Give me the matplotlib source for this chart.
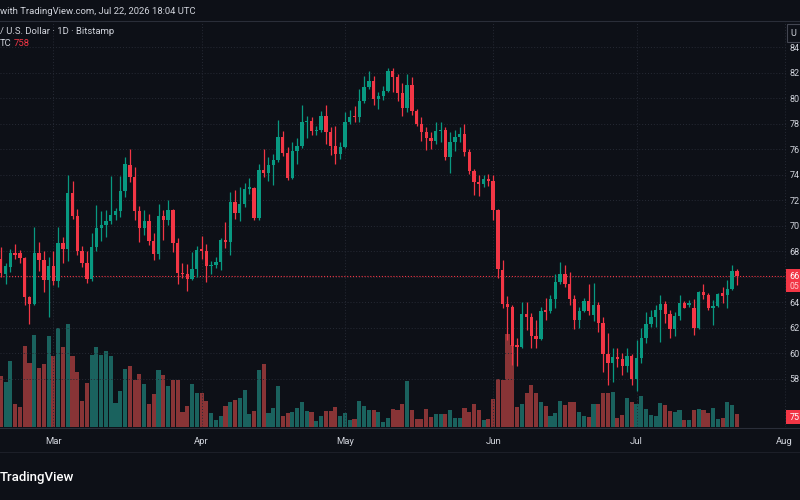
"""
Bitcoin / U.S. Dollar - 1D - Bitstamp (TradingView dark screenshot)
"""
import matplotlib
matplotlib.use('Agg')
import matplotlib.pyplot as plt
from matplotlib.patches import Rectangle
import numpy as np
import pandas as pd

# ── Data (prices in thousands of USD, volume in BTC) ──
dates = pd.date_range('2026-02-18', '2026-07-22', freq='D')

opens = [
    67.37, 66.20, 66.78, 67.88, 67.83, 67.46, 64.43, 63.86, 67.83, 67.30,
    65.74, 66.86, 65.63, 68.66, 68.17, 72.58, 70.78, 67.99, 67.10, 65.84,
    68.30, 69.81, 70.05, 70.39, 70.80, 71.12, 72.74, 74.78, 73.84, 71.14,
    69.82, 70.36, 68.80, 67.77, 70.73, 70.42, 71.20, 68.65, 66.26, 66.20,
    65.82, 66.57, 68.13, 68.00, 66.83, 66.90, 67.17, 68.90, 68.73, 71.84,
    70.99, 71.71, 72.86, 72.96, 70.62, 74.32, 74.11, 74.73, 75.10, 76.97,
    75.67, 73.74, 75.83, 76.27, 78.09, 78.22, 77.39, 77.52, 78.60, 77.30,
    76.27, 75.62, 76.19, 78.09, 78.60, 78.48, 79.73, 80.83, 81.35, 79.92,
    80.13, 80.57, 82.08, 81.66, 80.39, 79.21, 81.04, 79.00, 78.00, 77.30,
    76.87, 76.66, 77.39, 77.52, 75.36, 76.53, 76.92, 77.18, 75.75, 74.27,
    73.40, 73.28, 73.67, 73.48, 71.19, 66.54, 63.83, 63.63, 60.63, 60.45,
    63.05, 62.80, 61.33, 61.07, 63.37, 63.31, 64.20, 65.58, 66.18, 65.45,
    64.20, 62.58, 63.31, 64.10, 62.98, 63.76, 62.38, 59.93, 59.25, 59.67,
    59.50, 59.00, 59.77, 57.95, 59.60, 61.15, 62.27, 62.84, 63.36, 63.83,
    63.05, 61.85, 62.90, 63.89, 63.76, 63.50, 61.93, 64.80, 64.54, 63.57,
    63.68, 64.70, 64.54, 65.05, 66.44,
]
highs = [
    68.30, 67.10, 68.17, 68.56, 68.10, 67.50, 64.50, 69.86, 68.70, 68.04,
    67.57, 67.99, 69.92, 69.13, 73.99, 73.50, 71.27, 68.36, 67.99, 69.45,
    71.64, 71.17, 71.20, 73.86, 71.40, 73.90, 75.35, 76.00, 74.57, 71.50,
    71.20, 70.90, 69.40, 71.70, 71.25, 71.97, 71.30, 69.06, 67.10, 67.00,
    67.95, 68.40, 69.17, 68.55, 67.25, 67.50, 68.99, 70.30, 72.62, 72.80,
    73.06, 73.30, 73.74, 73.00, 74.84, 76.00, 75.36, 75.60, 78.28, 77.39,
    76.19, 76.53, 76.87, 79.47, 78.60, 78.54, 77.83, 78.95, 79.47, 77.76,
    77.83, 76.53, 78.87, 79.06, 79.40, 80.70, 81.74, 82.10, 81.74, 80.44,
    80.96, 82.34, 82.34, 81.92, 81.14, 81.92, 81.66, 79.14, 78.48, 77.70,
    77.30, 78.09, 78.09, 77.70, 77.30, 77.50, 77.76, 77.96, 76.00, 74.45,
    73.93, 73.93, 74.06, 73.93, 71.32, 67.27, 64.46, 63.76, 61.15, 64.00,
    64.00, 63.16, 62.58, 63.63, 64.28, 64.54, 66.23, 67.14, 66.88, 66.36,
    64.54, 63.63, 64.28, 65.45, 65.47, 64.00, 62.84, 61.54, 60.37, 60.37,
    59.98, 60.37, 59.90, 61.00, 61.93, 63.23, 63.36, 63.76, 64.54, 64.10,
    63.36, 63.23, 64.54, 64.10, 64.15, 64.20, 64.87, 65.40, 64.67, 64.15,
    64.70, 65.20, 65.70, 66.88, 66.62,
]
lows = [
    65.95, 65.40, 66.34, 67.38, 67.04, 63.73, 62.30, 63.73, 66.47, 64.77,
    62.80, 65.37, 65.16, 67.10, 67.20, 70.50, 67.72, 66.78, 65.48, 65.68,
    67.99, 68.82, 69.10, 70.10, 70.40, 70.70, 72.20, 73.40, 70.42, 68.73,
    69.25, 68.47, 67.30, 67.35, 68.86, 70.03, 67.95, 65.43, 65.87, 64.83,
    65.74, 66.00, 67.35, 65.60, 66.20, 66.65, 66.52, 68.20, 67.69, 70.55,
    70.36, 71.45, 72.44, 70.46, 70.46, 73.80, 73.48, 73.20, 74.97, 75.49,
    73.60, 73.67, 74.84, 76.09, 76.90, 77.13, 77.13, 77.30, 76.40, 75.57,
    74.84, 75.23, 76.09, 77.96, 78.10, 78.10, 79.58, 80.70, 79.47, 79.14,
    79.84, 80.44, 80.44, 79.73, 78.61, 78.87, 78.70, 77.83, 76.66, 75.93,
    76.00, 76.40, 76.53, 75.15, 74.10, 75.88, 76.53, 75.49, 74.06, 72.36,
    72.29, 73.00, 73.07, 70.46, 65.85, 63.50, 61.00, 59.07, 59.00, 60.37,
    61.80, 60.37, 60.37, 61.00, 62.58, 63.16, 63.50, 65.45, 65.19, 63.76,
    61.85, 61.93, 63.23, 62.97, 62.50, 61.67, 58.55, 57.50, 57.76, 58.90,
    58.30, 58.55, 57.50, 57.00, 59.20, 60.76, 62.06, 62.06, 60.90, 62.32,
    61.15, 61.33, 62.58, 63.50, 63.63, 61.40, 61.85, 64.20, 63.36, 62.20,
    63.60, 63.90, 63.50, 64.93, 65.30,
]
closes = [
    66.27, 66.86, 67.83, 67.72, 67.46, 64.43, 63.86, 67.83, 67.30, 65.74,
    66.86, 65.63, 68.66, 68.17, 72.58, 70.78, 67.99, 67.10, 65.84, 68.30,
    69.81, 70.05, 70.39, 70.80, 71.12, 72.74, 74.80, 73.84, 71.14, 69.82,
    70.36, 68.80, 67.77, 70.73, 70.42, 71.20, 68.65, 66.26, 66.18, 65.82,
    66.57, 68.08, 68.00, 66.83, 66.90, 67.17, 68.90, 68.73, 71.84, 70.99,
    71.71, 72.88, 73.00, 70.62, 74.32, 74.11, 74.73, 75.10, 76.97, 75.67,
    73.74, 75.83, 76.27, 78.09, 78.22, 77.39, 77.52, 78.60, 77.30, 76.27,
    75.62, 76.19, 78.09, 78.54, 78.48, 79.73, 80.83, 81.35, 79.92, 80.13,
    80.57, 82.08, 81.66, 80.39, 79.21, 81.04, 79.00, 78.00, 77.30, 76.87,
    76.66, 77.39, 77.52, 75.36, 76.53, 76.92, 77.18, 75.75, 74.27, 73.40,
    73.28, 73.67, 73.48, 71.19, 66.56, 63.83, 63.63, 60.55, 60.45, 63.05,
    62.80, 61.33, 61.07, 63.31, 63.23, 64.20, 65.58, 66.18, 65.45, 64.20,
    62.58, 63.31, 64.10, 63.31, 63.76, 62.38, 59.93, 59.25, 59.67, 59.50,
    58.98, 59.77, 57.95, 59.60, 61.15, 62.27, 62.84, 63.36, 63.83, 63.05,
    61.85, 62.90, 63.89, 63.57, 63.89, 61.93, 64.80, 64.54, 63.50, 63.68,
    64.60, 64.50, 65.05, 66.44, 66.02,
]
volumes = [
    2940, 2610, 3830, 1330, 1160, 4700, 3710, 5340, 3420, 3650,
    5280, 4120, 5740, 4640, 5970, 4120, 3190, 1510, 2550, 4180,
    4640, 4180, 4410, 4120, 1390, 2090, 3360, 3540, 2730, 3070,
    2490, 1330, 1910, 3310, 3020, 2380, 2730, 2730, 870, 1220,
    2490, 1970, 1970, 1510, 810, 410, 640, 1220, 1450, 1570,
    1680, 2150, 750, 930, 3310, 3650, 810, 1100, 2380, 640,
    810, 870, 1100, 1450, 930, 870, 350, 640, 930, 930,
    1160, 640, 810, 410, 460, 1510, 1220, 990, 990, 870,
    290, 520, 1040, 990, 1330, 2670, 990, 460, 460, 1040,
    580, 750, 750, 750, 990, 520, 520, 1100, 870, 1330,
    990, 410, 460, 1620, 2780, 2730, 5390, 4760, 1160, 1330,
    1970, 2440, 1970, 1450, 1220, 640, 810, 1510, 1280, 1450,
    1450, 870, 640, 580, 1330, 1330, 1970, 1970, 2030, 520,
    700, 1680, 1450, 1330, 1800, 1040, 700, 640, 1390, 1280,
    930, 870, 990, 410, 410, 990, 1040, 990, 810, 1100,
    460, 520, 1450, 1280, 758,
]

price_ticks = [58, 60, 62, 64, 66, 68, 70, 72, 74, 76, 78, 80, 82, 84]
month_starts = ['2026-03-01', '2026-04-01', '2026-05-01', '2026-06-01',
                '2026-07-01', '2026-08-01']
month_labels = ['Mar', 'Apr', 'May', 'Jun', 'Jul', 'Aug']

# ── Estilo ──
BG = '#0d1017'
GRID = '#262a35'
TXT = '#d1d4dc'
UP = '#089981'
DOWN = '#f23645'
VOL_UP = '#26a69a'
VOL_DOWN = '#ef5350'
FS = 6.5

plt.rcParams['font.family'] = ['Roboto', 'DejaVu Sans']

W, H = 800, 500
fig = plt.figure(figsize=(W / 100, H / 100), dpi=100)
fig.patch.set_facecolor(BG)


def fx(px):
    return px / W


def fy(py):
    return 1 - py / H


# chart pane: x 0..786 px, y 21..427 px
ax = fig.add_axes([0, fy(427), fx(786), (427 - 21) / H])
axv = ax.twinx()
ax.set_zorder(axv.get_zorder() + 1)
ax.patch.set_visible(False)
axv.patch.set_facecolor(BG)

x = np.arange(len(dates))
o = np.array(opens)
hi = np.array(highs)
lo = np.array(lows)
c = np.array(closes)
up = c >= o
colors = np.where(up, UP, DOWN)

# ── Volumen ──
axv.bar(x, volumes, width=0.86, color=np.where(up, VOL_UP, VOL_DOWN),
        alpha=0.55, linewidth=0)
axv.set_ylim(0, 23550)

# ── Velas ──
ax.vlines(x, lo, hi, colors=colors, linewidth=0.9, zorder=3)
body = np.maximum(np.abs(c - o), 0.07)
ax.bar(x, body, bottom=np.minimum(o, c), width=0.7, color=colors,
       linewidth=0, zorder=4)

ax.set_xlim(-0.17, 164.27)
ax.set_ylim(54.2, 86.04)

last = closes[-1]
month_idx = [(pd.Timestamp(m) - dates[0]).days for m in month_starts]
ax.set_xticks(month_idx)
ax.set_xticklabels(month_labels, color=TXT, fontsize=FS + 0.3)
ax.set_yticks(price_ticks)
# la etiqueta roja del último precio tapa la marca de 66
ax.set_yticklabels(['' if abs(t - last) < 1 else f'{t}' for t in price_ticks],
                   color=TXT, fontsize=FS)
ax.yaxis.tick_right()
ax.tick_params(axis='y', length=0, pad=2.5)
ax.tick_params(axis='x', length=0, pad=7)
ax.grid(True, color=GRID, linestyle=(0, (1, 2)), linewidth=0.7)
ax.set_axisbelow(True)
for a in (ax, axv):
    for s in a.spines.values():
        s.set_visible(False)
axv.set_yticks([])

# precio actual
ax.axhline(last, color=DOWN, linestyle=(0, (1, 1.6)), linewidth=0.8, zorder=2)

# ── Marcos de la interfaz ──
fig.add_artist(plt.Line2D([0, 1], [fy(21), fy(21)], color='#2a2e39', lw=0.8))
fig.add_artist(plt.Line2D([0, 1], [fy(428), fy(428)], color='#2a2e39', lw=0.8))
fig.add_artist(plt.Line2D([0, 1], [fy(452), fy(452)], color='#1c1f28', lw=0.8))

# etiqueta del precio en la escala
y_last_px = H - ax.transData.transform((0, last))[1]
fig.add_artist(Rectangle((fx(786), fy(y_last_px + 16)), fx(14), 23 / H,
                         facecolor=DOWN, edgecolor='none'))
fig.text(fx(789.5), fy(y_last_px), '66', color='white', fontsize=FS,
         va='center', ha='left')
fig.text(fx(789.5), fy(y_last_px + 10), '05', color='#ffc9cc', fontsize=FS - 0.3,
         va='center', ha='left')

# etiqueta del volumen
fig.add_artist(Rectangle((fx(786), fy(424)), fx(14), 14 / H,
                         facecolor=DOWN, edgecolor='none'))
fig.text(fx(789.5), fy(417), '75', color='white', fontsize=FS,
         va='center', ha='left')

# selector de moneda
fig.add_artist(Rectangle((fx(787), fy(42)), fx(16), 18 / H,
                         facecolor=BG, edgecolor='#434651', lw=0.8))
fig.text(fx(790), fy(33), 'U', color=TXT, fontsize=FS, va='center')

# ── Textos ──
fig.text(0, fy(12), 'with TradingView.com, Jul 22, 2026 18:04 UTC',
         color=TXT, fontsize=6.8, va='center', ha='left')
fig.text(0, fy(32), '/ U.S. Dollar · 1D · Bitstamp', color=TXT,
         fontsize=6.8, va='center', ha='left')
fig.text(0, fy(44), 'TC', color=TXT, fontsize=6.8, va='center', ha='left')
fig.text(fx(14), fy(44), '758', color=DOWN, fontsize=6.8, va='center',
         ha='left')
fig.text(0, fy(478), 'TradingView', color='white', fontsize=9.5,
         fontweight='medium', va='center', ha='left')

fig.savefig('out.png', dpi=100, facecolor=BG)
